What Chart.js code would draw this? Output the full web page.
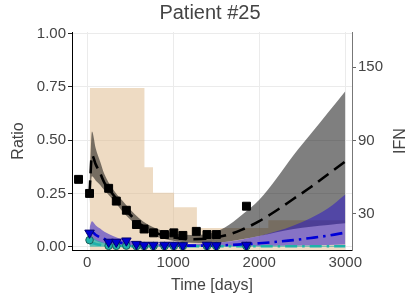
<!DOCTYPE html>
<html>
<head>
<meta charset="utf-8">
<script src="https://cdn.jsdelivr.net/npm/chart.js@4"></script>
<style>
    html, body { margin: 0; padding: 0; background: #fff; }
    #wrap { width: 420px; height: 300px; }
</style>
</head>
<body>
<div id="wrap"><canvas id="chart" width="420" height="300"></canvas></div>
<script>
// tick positions
const xTicks = [0, 1000, 2000, 3000];
const ratioTicks = [0, 0.25, 0.5, 0.75, 1];
const ifnTicks = [30, 90, 150];

// measured points
const squareDays = [-101, 27, 249, 338, 455, 572, 661, 770, 898, 1007, 1112, 1268, 1392, 1501, 1851];
const squareRatio = [0.316, 0.25, 0.274, 0.214, 0.171, 0.104, 0.083, 0.065, 0.057, 0.065, 0.053, 0.072, 0.057, 0.057, 0.19];
const triangleDays = [27, 249, 338, 455, 572, 661, 770, 898, 1007, 1112, 1392, 1501, 1851];
const triangleRatio = [0.065, 0.022, 0.022, 0.028, 0.012, 0.008, 0.008, 0.008, 0.008, 0.006, 0.008, 0.006, 0.008];
const circleRatio = [0.031, 0.004, 0.004, 0.005, 0.003, 0.003, 0.003, 0.003, 0.003, 0.003, 0.003, 0.003, 0.003];

// model curves
const modelDays = [27, 55, 100, 150, 200, 300, 400, 500, 600, 700, 800, 900, 1000, 1200, 1400, 1600, 1800, 2000, 2200, 2400, 2600, 2800, 3000];
const blackMean = [0.25, 0.43, 0.385, 0.345, 0.30, 0.245, 0.195, 0.15, 0.11, 0.085, 0.065, 0.052, 0.044, 0.035, 0.038, 0.052, 0.08, 0.12, 0.17, 0.225, 0.28, 0.34, 0.40];
const blackUpper = [0.30, 0.54, 0.46, 0.40, 0.34, 0.27, 0.22, 0.175, 0.135, 0.105, 0.085, 0.072, 0.063, 0.055, 0.06, 0.09, 0.15, 0.22, 0.32, 0.43, 0.53, 0.63, 0.73];
const blackLower = [0.20, 0.33, 0.31, 0.29, 0.265, 0.22, 0.17, 0.128, 0.09, 0.066, 0.048, 0.036, 0.028, 0.018, 0.017, 0.022, 0.035, 0.05, 0.068, 0.083, 0.094, 0.102, 0.11];
const blueMean = [0.06, 0.07, 0.055, 0.044, 0.036, 0.025, 0.018, 0.013, 0.01, 0.008, 0.007, 0.006, 0.005, 0.005, 0.005, 0.007, 0.011, 0.016, 0.023, 0.031, 0.041, 0.052, 0.066];
const blueUpper = [0.09, 0.12, 0.10, 0.085, 0.07, 0.05, 0.036, 0.028, 0.022, 0.019, 0.016, 0.014, 0.013, 0.013, 0.015, 0.022, 0.034, 0.05, 0.072, 0.10, 0.135, 0.18, 0.245];
const blueLower = [0.03, 0.035, 0.028, 0.02, 0.015, 0.008, 0.004, 0.003, 0.002, 0.002, 0.002, 0.002, 0.002, 0.002, 0.002, 0.002, 0.003, 0.003, 0.004, 0.005, 0.006, 0.008, 0.01];
const tealMean = [0.015, 0.018, 0.013, 0.009, 0.006, 0.004, 0.003, 0.002, 0.002, 0.002, 0.002, 0.002, 0.002, 0.002, 0.002, 0.002, 0.002, 0.002, 0.002, 0.002, 0.002, 0.002, 0.002];
const tealUpper = [0.035, 0.042, 0.033, 0.024, 0.017, 0.01, 0.007, 0.005, 0.004, 0.004, 0.004, 0.004, 0.004, 0.004, 0.004, 0.004, 0.004, 0.004, 0.004, 0.004, 0.004, 0.004, 0.004];
const tealLower = [0, 0, 0, 0, 0, 0, 0, 0, 0, 0, 0, 0, 0, 0, 0, 0, 0, 0, 0, 0, 0, 0, 0];

// IFN steps (right axis)
const ifnDays = [30, 665, 765, 1010, 1275, 2105, 3000];
const ifnLevels = [133, 68, 47, 35, 18, 24.5, 24.5];

const FONT = "'Liberation Sans', Arial, sans-serif";
Chart.defaults.font.family = FONT;
Chart.defaults.color = '#444';

const pts = (xs, ys) => xs.map((x, i) => ({ x: x, y: ys[i] }));

function curve(ys, color, dash, order) {
    return {
        data: pts(modelDays, ys),
        showLine: true,
        borderColor: color,
        borderWidth: 2.6,
        borderDash: dash,
        pointRadius: 0,
        cubicInterpolationMode: 'monotone',
        order: order
    };
}

function band(ys, fillColor, fill, order) {
    return {
        data: pts(modelDays, ys),
        showLine: true,
        borderWidth: 0,
        borderColor: 'rgba(0,0,0,0)',
        backgroundColor: fillColor,
        pointRadius: 0,
        cubicInterpolationMode: 'monotone',
        fill: fill,
        order: order
    };
}

// right axis label drawn bottom-to-top like the left one
const ifnLabel = {
    id: 'ifnLabel',
    afterDraw(chart) {
        const ctx = chart.ctx;
        const area = chart.chartArea;
        ctx.save();
        ctx.translate(401, (area.top + area.bottom) / 2);
        ctx.rotate(-Math.PI / 2);
        ctx.font = '16px ' + FONT;
        ctx.fillStyle = '#444';
        ctx.textAlign = 'center';
        ctx.textBaseline = 'middle';
        ctx.fillText('IFN', 0, 0);
        ctx.restore();
    }
};

const setTicks = (values) => (scale) => {
    scale.ticks = values.map(v => ({ value: v }));
};

new Chart(document.getElementById('chart'), {
    type: 'scatter',
    data: {
        datasets: [
            {
                data: pts(squareDays, squareRatio),
                pointStyle: 'rect',
                pointRadius: 5.6,
                backgroundColor: '#000',
                borderColor: '#000',
                borderWidth: 1,
                order: 0
            },
            {
                data: pts(triangleDays, triangleRatio),
                pointStyle: 'triangle',
                rotation: 180,
                pointRadius: 5.5,
                backgroundColor: '#0000d0',
                borderColor: '#000070',
                borderWidth: 1,
                order: 1
            },
            {
                data: pts(triangleDays, circleRatio),
                pointStyle: 'circle',
                pointRadius: 3.8,
                backgroundColor: '#20b2aa',
                borderColor: '#1d5f5a',
                borderWidth: 1,
                order: 2
            },
            curve(blackMean, '#000', [13, 7], 3),
            curve(blueMean, '#0000d8', [12, 5, 2.5, 5], 4),
            curve(tealMean, '#20b2aa', [12, 5, 2.5, 5], 5),
            band(tealUpper, 'rgba(32,178,170,0.7)', '+1', 6),
            band(tealLower, 'rgba(0,0,0,0)', false, 7),
            band(blueUpper, 'rgba(40,20,200,0.52)', '+1', 8),
            band(blueLower, 'rgba(0,0,0,0)', false, 9),
            band(blackUpper, 'rgba(0,0,0,0.5)', '+1', 10),
            band(blackLower, 'rgba(0,0,0,0)', false, 11),
            {
                data: pts(ifnDays, ifnLevels),
                yAxisID: 'y2',
                showLine: true,
                stepped: 'before',
                borderWidth: 0,
                borderColor: 'rgba(0,0,0,0)',
                backgroundColor: 'rgba(222,184,135,0.5)',
                pointRadius: 0,
                fill: 'origin',
                order: 12
            }
        ]
    },
    options: {
        responsive: false,
        animation: false,
        layout: { padding: 0 },
        plugins: {
            legend: { display: false },
            tooltip: { enabled: false },
            title: {
                display: true,
                text: 'Patient #25',
                color: '#444',
                font: { size: 20, weight: 'normal' },
                padding: { top: 1, bottom: 7 }
            }
        },
        scales: {
            x: {
                type: 'linear',
                min: -177,
                max: 3078,
                afterBuildTicks: setTicks(xTicks),
                afterFit(scale) { scale.height = 50; },
                grid: { color: '#ebebeb', drawTicks: false },
                border: { color: '#000', width: 1 },
                ticks: {
                    padding: 4,
                    font: { size: 15 },
                    color: '#444',
                    callback: (v) => String(v)
                },
                title: {
                    display: true,
                    text: 'Time [days]',
                    color: '#444',
                    font: { size: 16 },
                    padding: { top: 0, bottom: 5 }
                }
            },
            y: {
                position: 'left',
                min: -0.0155,
                max: 1.0075,
                afterBuildTicks: setTicks(ratioTicks),
                afterFit(scale) { scale.width = 72; },
                grid: { color: '#ebebeb', tickColor: '#222', tickLength: 4 },
                border: { color: '#000', width: 1 },
                ticks: {
                    padding: 2,
                    font: { size: 15 },
                    color: '#444',
                    callback: (v) => Number(v).toFixed(2)
                },
                title: {
                    display: true,
                    text: 'Ratio',
                    color: '#444',
                    font: { size: 16 },
                    padding: { top: 9, bottom: 0 }
                }
            },
            y2: {
                position: 'right',
                min: 0,
                max: 179,
                afterBuildTicks: setTicks(ifnTicks),
                afterFit(scale) { scale.width = 68; },
                grid: { drawOnChartArea: false, color: '#666', tickLength: 4 },
                border: { color: '#777', width: 1 },
                ticks: { padding: 2, font: { size: 15 }, color: '#444' }
            }
        }
    },
    plugins: [ifnLabel]
});
</script>
</body>
</html>
